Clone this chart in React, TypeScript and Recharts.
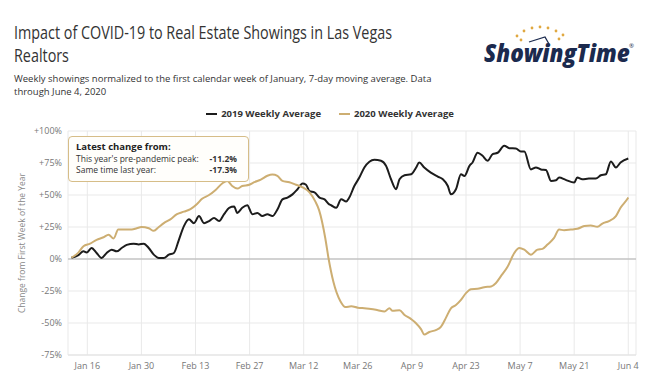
import React from "react";
import {
  LineChart,
  Line,
  XAxis,
  YAxis,
  CartesianGrid,
  ReferenceLine,
  Legend,
} from "recharts";

// day of year 2020 (Jan 1 = 1)
const days2019 = [
  11.9, 13.7, 15, 15.8, 17.1, 18.4, 19.7, 21, 22.3, 23.6, 24.9, 26.2, 28, 29.3,
  30.6, 31.9, 33.2, 34.5, 35.8, 37.1, 38.4, 39.7, 41, 42.3, 43.6, 44.9, 46.2,
  47.5, 48.8, 50.1, 51.4, 52.7, 54, 54.8, 56.1, 57.4, 58.7, 60, 61.3, 62.6,
  63.9, 65.2, 66.5, 67.8, 69.1, 70.4, 71.7, 72.6, 73.5, 74.8, 76.1, 77.4, 78.6,
  79.1, 80.4, 81.7, 83, 83.8, 85.1, 86.4, 87.7, 89, 90.3, 92, 93.3, 94.6, 95.9,
  96.8, 98.1, 99.8, 101.1, 101.9, 103.2, 104.9, 106.7, 108, 109.3, 110.1, 111.4,
  112.7, 113.6, 114.9, 115.7, 117, 118.3, 119.6, 120.9, 122.2, 123.9, 125.2,
  126.9, 128.2, 129.1, 130.8, 132.1, 133.4, 134.7, 136, 137.3, 138.1, 139.8,
  142, 142.8, 144.1, 145.8, 147.6, 148.9, 150.2, 151.5, 152.8, 154, 156,
];
const values2019 = [
  1, 3, 6, 5, 8.6, 4.7, 0.8, 4.7, 7.3, 6, 8.6, 11, 12, 11.3, 12, 8.6, 3.4, 0.8,
  0.8, 3.4, 4.7, 15, 25.7, 31, 28, 33.5, 28, 29.6, 32, 29.6, 35, 40, 41, 36, 40,
  42, 35, 36, 33.5, 35, 33.5, 38.7, 46.6, 48, 50.5, 54.5, 59, 58, 53, 52, 48,
  46.6, 42.7, 42, 40, 46.6, 45, 48, 57, 63.6, 71.5, 76, 77.5, 76.7, 72.8, 62.3,
  54.5, 62.3, 65.4, 66.2, 71.5, 75.4, 71.5, 67.5, 64.4, 62.3, 57, 50.5, 54.5,
  66.2, 64.8, 72.8, 75.4, 83, 80.6, 76.7, 82, 83, 88.5, 86.6, 86.4, 84, 84, 70,
  71.5, 70, 69.6, 61, 61.5, 63.6, 61.8, 59.7, 63.6, 62.3, 62.8, 62.8, 65.4,
  66.2, 76.2, 71.5, 75.4, 78.5,
];

const days2020 = [
  11.9, 13.7, 15, 16.7, 18.4, 20.2, 21.5, 22.8, 24, 25.8, 27.5, 28.8, 30, 31.9,
  33.2, 34.5, 35.8, 37.5, 39.2, 41, 42.7, 44.4, 45.7, 47.5, 49.2, 50.9, 52.2,
  53.5, 54.8, 56.1, 57.9, 59.2, 60.9, 62.6, 63.9, 65.2, 66.5, 68.3, 70, 71.7,
  73.5, 75, 76, 77.6, 78.4, 79.7, 81.5, 82.8, 84.3, 86, 87.7, 89.4, 91.2, 92.9,
  94.2, 95, 96.8, 98.1, 99.8, 101, 102.4, 103.2, 104.5, 106.2, 107.5, 108.8,
  110.1, 111.4, 112.7, 114, 115.3, 117, 118.7, 120.5, 121.7, 123, 124.8, 126.5,
  127.8, 129.1, 130.8, 132.5, 133.8, 135.1, 136.8, 138.1, 139.4, 141.1, 142.8,
  144.6, 146.3, 148, 149.3, 151, 152.8, 154, 155.8, 156,
];
const values2020 = [
  1, 5, 10, 12, 15, 17, 19, 16, 23, 23, 23, 24, 25, 24, 22, 25, 28, 31, 35, 37,
  39, 43, 47, 50, 54, 59, 61, 57, 55, 57, 58, 60, 62, 65, 66, 65, 61, 60, 58, 56,
  52, 45, 38, 16, 1, -18, -33, -37.5, -37, -38, -38.5, -39, -40, -41, -38.5,
  -40.5, -40, -43.7, -47, -50, -55, -59, -57, -55.5, -53, -46, -38.5, -36, -32,
  -26.7, -23.6, -23.3, -22, -21.5, -19, -13.6, -5.8, 4.7, 8.6, 7.3, 3.4, 7.3,
  7.9, 11.3, 16.5, 23, 22.5, 23, 23.6, 25.7, 26.2, 25.1, 27.7, 29.6, 33.5, 40,
  47, 48,
];

const tickDays = [16, 30, 44, 58, 72, 86, 100, 114, 128, 142, 156];
const tickLabels = [
  "Jan 16", "Jan 30", "Feb 13", "Feb 27", "Mar 12", "Mar 26",
  "Apr 9", "Apr 23", "May 7", "May 21", "Jun 4",
];
const yTicks = [-75, -50, -25, 0, 25, 50, 75, 100];
const seriesNames = ["2019 Weekly Average", "2020 Weekly Average"];
const seriesColors = ["#1c1c1c", "#cdae72"];

const data2019 = days2019.map((d, i) => ({ day: d, value: values2019[i] }));
const data2020 = days2020.map((d, i) => ({ day: d, value: values2020[i] }));

const font = "'Open Sans', sans-serif";

const LegendContent = () => (
  <div
    style={{
      display: "flex",
      justifyContent: "center",
      gap: 18,
      fontFamily: font,
      fontSize: 9.5,
      fontWeight: 700,
      color: "#333",
    }}
  >
    {seriesNames.map((name, i) => (
      <div key={name} style={{ display: "flex", alignItems: "center" }}>
        <svg width={11} height={4} style={{ marginRight: 4 }}>
          <line x1={0} y1={2} x2={11} y2={2} stroke={seriesColors[i]} strokeWidth={2} />
        </svg>
        {name}
      </div>
    ))}
  </div>
);

const Logo = () => (
  <svg width={175} height={60} style={{ position: "absolute", left: 475, top: 18 }}>
    {[
      [42, 18], [49, 13], [57, 10], [65, 9], [73, 10], [81, 13], [88, 17],
      [46, 22], [84, 21],
    ].map(([cx, cy], i) => (
      <circle key={i} cx={cx} cy={cy} r={1.4} fill="#e0a840" />
    ))}
    <path d="M54 24 L70 19 L74 26" fill="none" stroke="#1b2a4e" strokeWidth={1.3} />
    <text
      x={0}
      y={44}
      fontFamily={font}
      fontSize={25.5}
      fontWeight={800}
      fontStyle="italic"
      fill="#1b2a4e"
      transform="translate(9,0) scale(0.88,1)"
    >
      ShowingTime
    </text>
    <text x={154} y={30} fontFamily={font} fontSize={6} fill="#1b2a4e">
      ®
    </text>
  </svg>
);

export default function App() {
  return (
    <div
      style={{
        position: "absolute",
        left: 0,
        top: 0,
        width: 660,
        height: 378,
        background: "#fff",
        fontFamily: font,
      }}
    >
      <div
        style={{
          position: "absolute",
          left: 14,
          top: 21,
          fontSize: 17.5,
          lineHeight: "23px",
          color: "#333",
          whiteSpace: "nowrap",
          transform: "scaleX(0.82)",
          transformOrigin: "left top",
        }}
      >
        Impact of COVID-19 to Real Estate Showings in Las Vegas
        <br />
        Realtors
      </div>
      <div
        style={{
          position: "absolute",
          left: 14,
          top: 72,
          fontSize: 9.5,
          lineHeight: "13px",
          color: "#333",
          whiteSpace: "nowrap",
        }}
      >
        Weekly showings normalized to the first calendar week of January, 7-day
        moving average. Data
        <br />
        through June 4, 2020
      </div>
      <Logo />
      <LineChart
        width={660}
        height={378}
        margin={{ top: 131, right: 24, bottom: 0, left: 8 }}
      >
        <CartesianGrid stroke="#e9e9e9" strokeWidth={1} />
        <XAxis
          dataKey="day"
          type="number"
          domain={[11, 158]}
          ticks={tickDays}
          tickFormatter={(v: number) => tickLabels[tickDays.indexOf(v)]}
          allowDataOverflow
          height={23}
          tickLine={false}
          axisLine={{ stroke: "#e2e2e2" }}
          tick={{ fontSize: 9, fill: "#777", fontFamily: font }}
        />
        <YAxis
          type="number"
          domain={[-75, 100]}
          ticks={yTicks}
          width={60}
          tickSize={4}
          tickLine={false}
          axisLine={false}
          tickFormatter={(v: number) => (v > 0 ? `+${v}%` : `${v}%`)}
          tick={{ fontSize: 9, fill: "#777", fontFamily: font }}
          label={{
            value: "Change from First Week of the Year",
            angle: -90,
            position: "insideLeft",
            offset: 14,
            style: { textAnchor: "middle", fontSize: 8.5, fill: "#888", fontFamily: font },
          }}
        />
        <ReferenceLine y={0} stroke="#b0b0b0" strokeWidth={1} />
        <Legend
          layout="horizontal"
          verticalAlign="middle"
          align="center"
          content={<LegendContent />}
          wrapperStyle={{ top: 107, left: 0, width: 660 }}
        />
        <Line
          data={data2019}
          dataKey="value"
          name={seriesNames[0]}
          type="monotone"
          stroke={seriesColors[0]}
          strokeWidth={2}
          dot={false}
          isAnimationActive={false}
        />
        <Line
          data={data2020}
          dataKey="value"
          name={seriesNames[1]}
          type="monotone"
          stroke={seriesColors[1]}
          strokeWidth={2}
          dot={false}
          isAnimationActive={false}
        />
      </LineChart>
      <div
        style={{
          position: "absolute",
          left: 68,
          top: 136,
          width: 172,
          height: 41,
          border: "1.5px solid #d6bd88",
          borderRadius: 4,
          background: "#fffefb",
          fontSize: 8.5,
          color: "#333",
          padding: "3px 0 0 7px",
          boxSizing: "content-box",
        }}
      >
        <div style={{ fontWeight: 700, fontSize: 9.5, lineHeight: "13px", color: "#222" }}>
          Latest change from:
        </div>
        <div style={{ display: "flex", justifyContent: "space-between", width: 161, lineHeight: "11px" }}>
          <span>This year's pre-pandemic peak:</span>
          <b>-11.2%</b>
        </div>
        <div style={{ display: "flex", justifyContent: "space-between", width: 161, lineHeight: "11px" }}>
          <span>Same time last year:</span>
          <b>-17.3%</b>
        </div>
      </div>
    </div>
  );
}
